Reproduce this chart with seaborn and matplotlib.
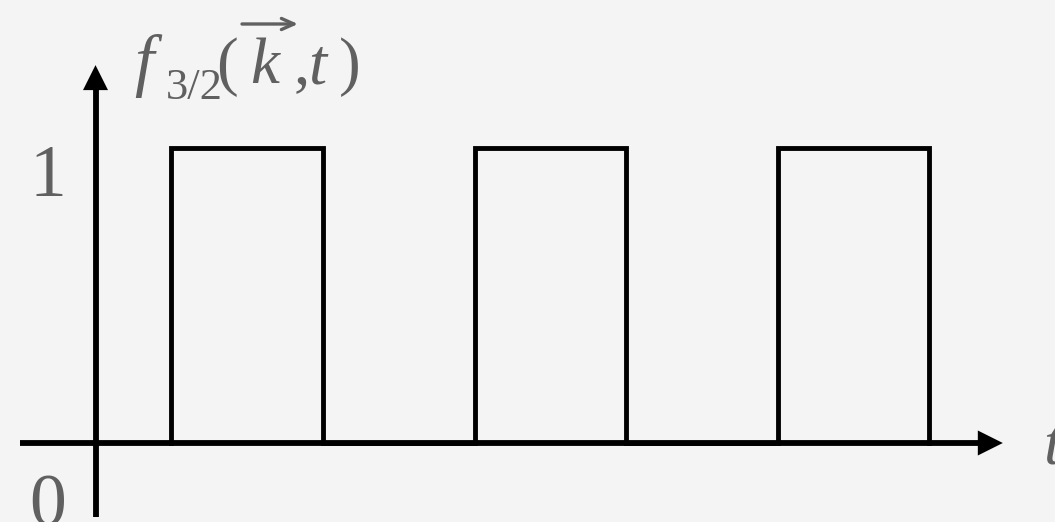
import matplotlib
matplotlib.use("Agg")
import matplotlib.pyplot as plt
import seaborn as sns
import pandas as pd

# Square pulse train f_{3/2}(k, t): on between each start/end pair
pulse_start = [1, 5, 9]
pulse_end = [3, 7, 11]
pulse_level = 1
tick_labels = ["1", "0"]

sns.set_theme(style="white")
plt.rcParams["font.family"] = ["Liberation Serif", "DejaVu Serif"]

bg = "#f4f4f4"
text_color = "#606060"
wave_lw = 3.5
axis_lw = 4.2

W, H = 1055, 522
fig = plt.figure(figsize=(W / 100, H / 100), dpi=100, facecolor=bg)
ax = fig.add_axes([0, 0, 1, 1])
ax.set_facecolor(bg)
ax.axis("off")

# data ranges: origin at t=0, f=0
ax.set_xlim(-95.5 / 75.8, (W - 95.5) / 75.8)
ax.set_ylim(-(H - 443) / 295, 443 / 295)

# waveform outline
xs, ys = [], []
for s, e in zip(pulse_start, pulse_end):
    xs += [s, s, e, e]
    ys += [0, pulse_level, pulse_level, 0]
wave = pd.DataFrame({"t": xs, "f": ys})
sns.lineplot(data=wave, x="t", y="f", sort=False, estimator=None,
             color="black", lw=wave_lw, ax=ax)
ax.lines[-1].set_solid_joinstyle("miter")
ax.lines[-1].set_solid_capstyle("projecting")

# coordinate axes: shafts plus filled arrowheads
ax.plot([-1.0, 11.7], [0, 0], color="black", lw=axis_lw,
        solid_capstyle="butt")
ax.plot([0, 0], [-0.252, 1.2], color="black", lw=axis_lw,
        solid_capstyle="butt")
head = dict(arrowstyle="-|>,head_length=18,head_width=9", lw=0,
            color="black", fc="black", shrinkA=0, shrinkB=0,
            mutation_scale=1)
ax.annotate("", xy=(11.97, 0), xytext=(10.0, 0), arrowprops=head)
ax.annotate("", xy=(0, 1.281), xytext=(0, 0.8), arrowprops=head)

# level labels and axis name
ax.text(-0.627, 0.837, tick_labels[0], fontsize=53, color=text_color,
        ha="center", va="baseline")
ax.text(-0.627, -0.278, tick_labels[1], fontsize=53, color=text_color,
        ha="center", va="baseline")
ax.text(12.50, -0.07, "t", fontsize=47, style="italic", color=text_color,
        ha="left", va="baseline")


def put(s, x, y, size=47, italic=False):
    ax.annotate(s, xy=(x, H - y), xycoords="figure pixels",
                fontsize=size, style="italic" if italic else "normal",
                color=text_color, ha="left", va="baseline",
                annotation_clip=False)


# ordinate name f_{3/2}(k, t) with vector arrow over k
put("f", 134, 83, size=50, italic=True)
put("3/2", 166, 99, size=32)
put("(", 216, 83)
put("k", 250, 83, italic=True)
put(",", 294, 83)
put("t", 308, 83, italic=True)
put(")", 339, 83)
ax.annotate("", xy=(298, H - 24), xytext=(242, H - 24),
            xycoords="figure pixels", textcoords="figure pixels",
            arrowprops=dict(arrowstyle="->,head_length=9,head_width=4",
                            lw=2.4, color=text_color, shrinkA=0, shrinkB=0,
                            mutation_scale=1))

fig.savefig("out.png", dpi=100, facecolor=bg)
